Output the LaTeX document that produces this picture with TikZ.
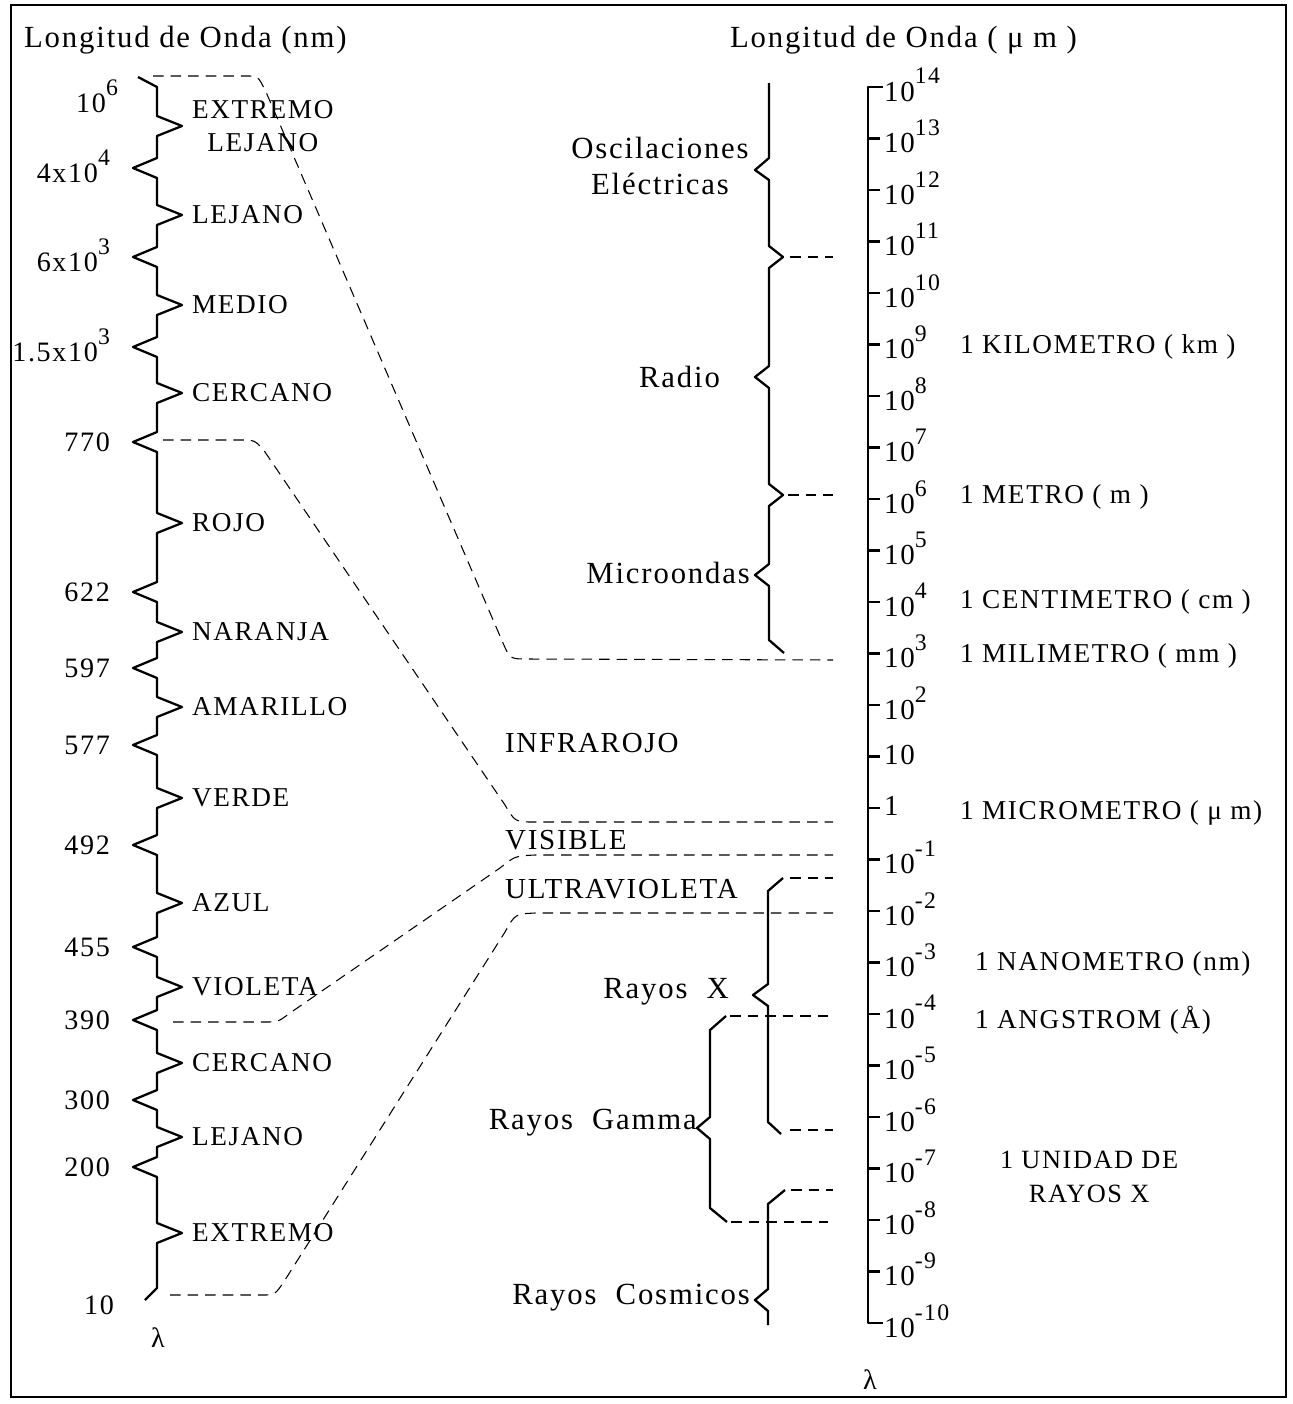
\documentclass[tikz,border=0pt]{standalone}
\usepackage{fontspec}
\setmainfont{Liberation Serif}[LetterSpace=6]
\usetikzlibrary{positioning}
\newcommand{\expo}[1]{\raisebox{0.6em}{\fontsize{13.5}{14}\selectfont#1}}

\begin{document}
\begin{tikzpicture}[x=0.02cm,y=-0.02cm,
  scale line/.style={line width=1.3pt,line join=round},
  dash line/.style={line width=0.6pt,dash pattern=on 6pt off 4pt},
  title label/.style={anchor=west,font=\fontsize{17.5}{20}\selectfont,inner sep=1pt},
  value label/.style={anchor=east,font=\fontsize{16}{18}\selectfont,inner sep=1pt},
  band label/.style={anchor=west,font=\fontsize{15.5}{19}\selectfont,inner sep=1pt},
  range label/.style={font=\fontsize{17.5}{21}\selectfont,inner sep=1pt},
  tick label/.style={anchor=west,font=\fontsize{16.5}{18}\selectfont,inner sep=1pt},
  unit label/.style={anchor=west,font=\fontsize{15.5}{19}\selectfont,inner sep=1pt}]

  \useasboundingbox (0,0) rectangle (1293,1404);
  \draw[line width=1.5pt] (11,5) rectangle (1286,1397);

  % titles
  \node[title label] (title nm) at (22,40) {Longitud de Onda (nm)};
  \node[title label] (title um) at (728,40) {Longitud de Onda ( μ m )};

  % left scale, nm
  \draw[scale line] (138,77) -- (157,87)
    \foreach \y/\d in {126/25,168/-24,215/25,257/-24,305/25,347/-24,393/25,442/-24,
      523/25,592/-24,632/25,668/-24,707/25,745/-24,798/25,845/-24,903/25,947/-24,
      987/25,1020/-24,1063/25,1100/-24,1137/25,1167/-24,1233/25}
      { -- (157,\y-10) -- ({157+(\d)},\y) -- (157,\y+10) }
    -- (157,1288) -- (145,1300);

  \node[value label] (v1) at (120,96) {10\expo{6}};
  \foreach \y/\txt [count=\i from 2] in {166/{4x10\expo{4}},255/{6x10\expo{3}},
      345/{1.5x10\expo{3}},442/770,592/622,668/597,745/577,845/492,947/455,
      1020/390,1100/300,1167/200}
    \node[value label] (v\i) at (112,\y) {\txt};
  \node[value label] (v14) at (116,1305) {10};
  \node[font=\fontsize{16}{18}\selectfont] (lambda nm) at (158,1338) {λ};

  \node[band label,align=center] (b1) at (190,126) {EXTREMO\\LEJANO};
  \foreach \y/\txt [count=\i from 2] in {215/LEJANO,305/MEDIO,393/CERCANO,523/ROJO,
      632/NARANJA,707/AMARILLO,798/VERDE,903/AZUL,987/VIOLETA,1063/CERCANO,
      1137/LEJANO,1233/EXTREMO}
    \node[band label] (b\i) at (190,\y) {\txt};

  % right scale, micrometres
  \draw[scale line] (883,87) -- (868,87) -- (868,1323) -- (883,1323);
  \foreach \k in {13,12,...,-9}
    \draw[scale line] (868,{87+(14-\k)*51.5}) -- (880,{87+(14-\k)*51.5});
  \foreach \k in {14,13,...,-10}
    \node[tick label] (p\k) at (882,{87+(14-\k)*51.5-2})
      {\ifnum\k=0 1\else 10\ifnum\k=1 \else\expo{\k}\fi\fi};
  \node[font=\fontsize{16}{18}\selectfont] (lambda um) at (870,1380) {λ};

  \node[unit label] (km) at (958,347) {1 KILOMETRO ( km )};
  \node[unit label] (m) at (958,497) {1 METRO ( m )};
  \node[unit label] (cm) at (958,602) {1 CENTIMETRO ( cm )};
  \node[unit label] (mm) at (958,656) {1 MILIMETRO ( mm )};
  \node[unit label] (um) at (958,813) {1 MICROMETRO ( μ m)};
  \node[unit label] (nm) at (973,964) {1 NANOMETRO (nm)};
  \node[unit label] (angstrom) at (973,1020) {1 ANGSTROM (Å)};
  \node[unit label,align=center,font=\fontsize{15}{19}\selectfont] (xu) at (998,1177)
    {1 UNIDAD DE\\RAYOS X};

  % braces of the long waves
  \draw[scale line] (769,83) -- (769,158) -- (755,170) -- (769,180) -- (769,246)
    -- (783,257) coordinate (osc end) -- (769,268) -- (769,366) -- (755,377) -- (769,388)
    -- (769,484) -- (783,495) coordinate (radio end) -- (769,506) -- (769,564)
    -- (755,575) -- (769,586) -- (769,640) -- (784,653);
  \node[range label,align=center] (osc) at (660,166) {Oscilaciones\\Eléctricas};
  \node[range label,anchor=east] (radio) at (722,377) {Radio};
  \node[range label,anchor=east] (micro) at (752,573) {Microondas};

  % braces of the short waves
  \draw[scale line] (783,878) coordinate (x top) -- (768,891) -- (768,984) -- (753,995)
    -- (768,1006) -- (768,1122) -- (781,1134) coordinate (x end);
  \draw[scale line] (726,1016) coordinate (gamma top) -- (710,1030) -- (710,1117)
    -- (697,1128) -- (710,1139) -- (710,1208) -- (727,1222) coordinate (gamma end);
  \draw[scale line] (785,1190) coordinate (cosmic top) -- (768,1204) -- (768,1289)
    -- (755,1300) -- (768,1311) -- (768,1325);
  \node[range label,anchor=east] (xray) at (731,992) {Rayos\ \ X};
  \node[range label,anchor=east] (gamma) at (699,1123) {Rayos\ \ Gamma};
  \node[range label,anchor=east] (cosmic) at (752,1298) {Rayos\ \ Cosmicos};

  \node[range label,anchor=west,font=\fontsize{16.5}{20}\selectfont] (ir) at (503,743) {INFRAROJO};
  \node[range label,anchor=west,font=\fontsize{16.5}{20}\selectfont] (vis) at (503,840) {VISIBLE};
  \node[range label,anchor=west,font=\fontsize{16.5}{20}\selectfont] (uv) at (503,889) {ULTRAVIOLETA};

  % dashed connectors
  \coordinate (ir a) at (153,76);
  \coordinate (ir b) at (833,660);
  \coordinate (vis a) at (163,440);
  \coordinate (vis b) at (833,822);
  \coordinate (uv a) at (173,1022);
  \coordinate (uv b) at (833,855);
  \coordinate (uv c) at (170,1295);
  \coordinate (uv d) at (833,913);

  \draw[dash line] (ir a) -- (248,76) .. controls (258,76) .. (266,92) -- (503,643)
    .. controls (510,659) .. (528,659) -- (ir b);
  \draw[dash line] (vis a) -- (240,440) .. controls (255,440) .. (265,452) -- (505,805)
    .. controls (515,822) .. (535,822) -- (vis b);
  \draw[dash line] (uv a) -- (265,1022) .. controls (278,1022) .. (290,1013) -- (500,868)
    .. controls (515,856) .. (535,855) -- (uv b);
  \draw[dash line] (uv c) -- (262,1295) .. controls (275,1295) .. (285,1280) -- (505,932)
    .. controls (515,914) .. (535,913) -- (uv d);

  \draw[dash line] (osc end) ++(7,0) -- (833,257);
  \draw[dash line] (radio end) ++(5,0) -- (833,495);
  \draw[dash line] (x top) ++(7,0) -- (833,878);
  \draw[dash line] (x end) ++(9,-4) -- (833,1130);
  \draw[dash line] (gamma top) ++(4,0) -- (828,1016);
  \draw[dash line] (gamma end) ++(4,0) -- (828,1222);
  \draw[dash line] (cosmic top) ++(6,0) -- (833,1190);
\end{tikzpicture}
\end{document}
